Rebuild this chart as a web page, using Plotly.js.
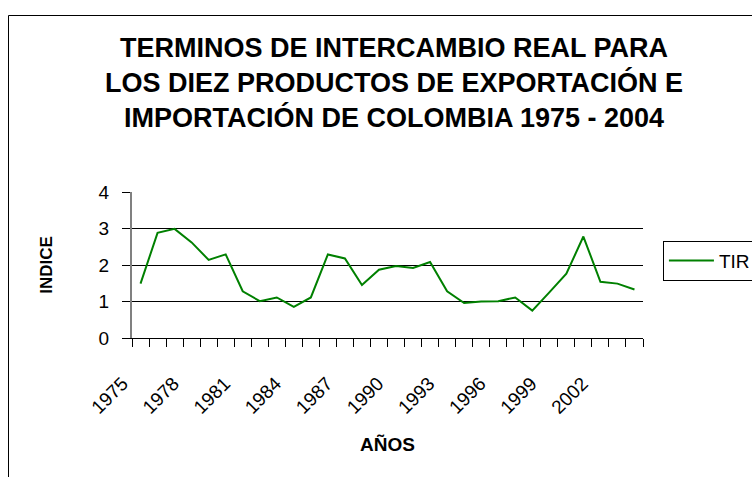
<!DOCTYPE html>
<html>
<head>
<meta charset="utf-8">
<script src="https://cdn.plot.ly/plotly-3.0.1.min.js"></script>
<style>
html,body{margin:0;padding:0;background:#fff;}
#chart{width:752px;height:477px;}
</style>
</head>
<body>
<div id="chart"></div>
<script>
var years = [1975,1976,1977,1978,1979,1980,1981,1982,1983,1984,1985,1986,1987,1988,1989,1990,1991,1992,1993,1994,1995,1996,1997,1998,1999,2000,2001,2002,2003,2004];
var tir = [1.49,2.88,2.99,2.62,2.14,2.29,1.28,1.01,1.11,0.85,1.11,2.29,2.18,1.45,1.87,1.97,1.92,2.08,1.28,0.96,1.0,1.01,1.11,0.75,1.25,1.76,2.78,1.54,1.49,1.33];
var tickYears = [1975,1978,1981,1984,1987,1990,1993,1996,1999,2002];
var yTicks = [0,1,2,3,4];
var seriesName = 'TIR';
var titleText = 'TERMINOS DE INTERCAMBIO REAL PARA<br>LOS DIEZ PRODUCTOS DE EXPORTACIÓN E<br>IMPORTACIÓN DE COLOMBIA 1975 - 2004';

var trace = {
  x: years, y: tir, name: seriesName, type: 'scatter', mode: 'lines',
  line: {color: '#008000', width: 2}
};

var layout = {
  width: 752, height: 477,
  paper_bgcolor: '#ffffff', plot_bgcolor: '#ffffff',
  margin: {l: 132, r: 109, t: 192, b: 139, autoexpand: false},
  font: {family: 'Liberation Sans, Arial, sans-serif', color: '#000'},
  title: {
    text: titleText,
    font: {size: 27, family: 'Liberation Sans, Arial, sans-serif', weight: 'bold', color: '#000'},
    xref: 'container', x: 0.524, xanchor: 'center',
    yref: 'container', y: 0.8805, yanchor: 'top'
  },
  xaxis: {
    type: 'linear', range: [1974.5, 2004.5],
    tickvals: tickYears, ticktext: tickYears.map(String),
    tickangle: -45, ticks: '', showgrid: false, zeroline: false,
    showline: true, linecolor: '#000', linewidth: 1,
    tickfont: {size: 19, color: '#000'},
    ticklabelstandoff: 26,
    ticklabelshift: -18,
    minor: {dtick: 1, tick0: 1974.5, ticks: 'outside', ticklen: 8, tickcolor: '#000', tickwidth: 1, showgrid: false},
    title: {text: 'AÑOS', font: {size: 19, weight: 'bold', color: '#000'}, standoff: 20}
  },
  yaxis: {
    range: [0, 4], tickvals: yTicks, ticks: 'outside', ticklen: 8, tickcolor: '#000',
    showgrid: true, gridcolor: '#000', gridwidth: 1, zeroline: false,
    showline: true, linecolor: '#808080', linewidth: 2,
    tickfont: {size: 19, color: '#000'},
    ticklabelstandoff: 9,
    title: {text: 'INDICE', font: {size: 17, weight: 'bold', color: '#000'}, standoff: 42}
  },
  showlegend: true,
  legend: {
    x: 1.039, xanchor: 'left', y: 0.667, yanchor: 'top',
    bordercolor: '#000', borderwidth: 1, bgcolor: '#fff',
    itemwidth: 45,
    font: {size: 19, color: '#000'}
  },
  shapes: [{
    type: 'rect', xref: 'paper', yref: 'paper',
    x0: (8.5 - 132) / 511, x1: (770 - 132) / 511,
    y0: (338 - 490) / 146, y1: (338 - 15.5) / 146,
    line: {color: '#000', width: 1}, fillcolor: 'rgba(0,0,0,0)', layer: 'below'
  }]
};

Plotly.newPlot('chart', [trace], layout, {displayModeBar: false, staticPlot: true});
</script>
</body>
</html>
